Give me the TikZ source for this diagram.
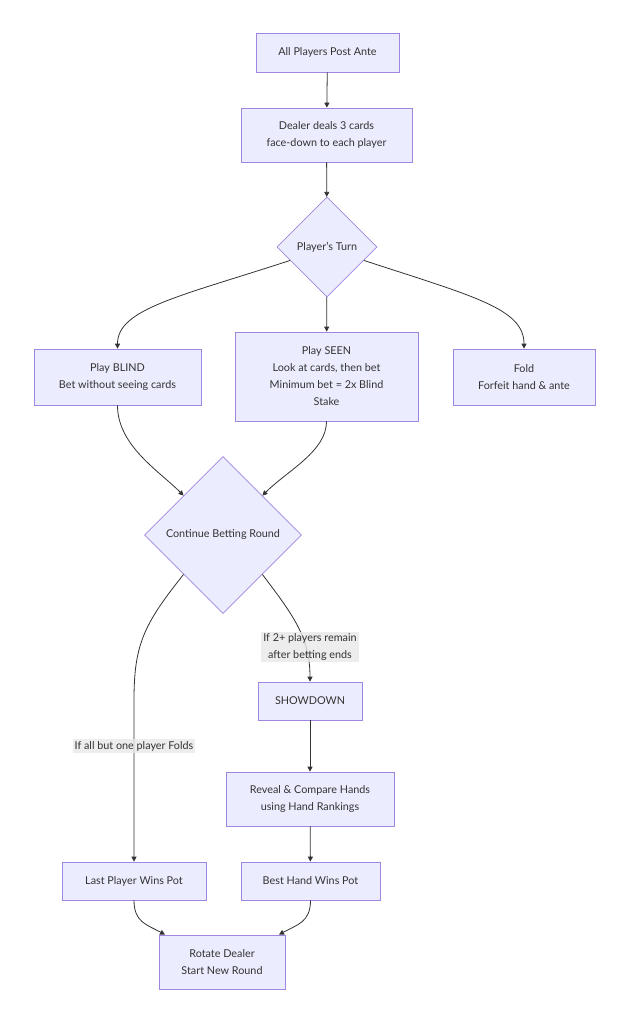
\documentclass[tikz,border=0pt]{standalone}
\usepackage{fontspec}
\setmainfont{Lato}
\usetikzlibrary{arrows.meta,positioning,calc,shapes.geometric}
\definecolor{mmfill}{HTML}{ECECFF}
\definecolor{mmline}{HTML}{9F86E0}
\definecolor{mmtext}{HTML}{333333}
\definecolor{mmlabel}{HTML}{E8E8E8}

\begin{document}
\begin{tikzpicture}[
      x=1pt, y=-1pt,
      box/.style={draw=mmline, fill=mmfill, line width=0.7pt, align=center,
                  inner sep=0pt, text=mmtext,
                  font=\fontsize{10.8}{17}\selectfont},
      choice/.style={box, diamond, aspect=1},
      lbl/.style={fill=mmlabel, fill opacity=0.8, text opacity=1,
                  align=center, inner sep=2pt, text=mmtext,
                  font=\fontsize{10.8}{17}\selectfont},
      arr/.style={-{Triangle[length=5pt,width=5pt]}, line width=0.8pt,
                  draw=mmtext},
    ]
    \useasboundingbox (0,0) rectangle (629,1024);

    % Deal
    \node[box, minimum width=143pt, minimum height=39pt] (ante) at (327.5,52.5)
      {All Players Post Ante};
    \node[box, minimum width=171pt, minimum height=54pt] (deal) at (326.5,135)
      {Dealer deals 3 cards\\face-down to each player};
    \node[choice, minimum width=100pt, minimum height=100pt] (turn) at (327,247)
      {Player's Turn};

    % Choices
    \node[box, minimum width=167pt, minimum height=56pt] (blind) at (117.5,377)
      {Play BLIND\\Bet without seeing cards};
    \node[box, minimum width=183pt, minimum height=89pt] (seen) at (326.5,376.5)
      {Play SEEN\\Look at cards, then bet\\Minimum bet = 2x Blind\\Stake};
    \node[box, minimum width=142pt, minimum height=56pt] (fold) at (524,377)
      {Fold\\Forfeit hand \& ante};

    % Betting + outcomes
    \node[choice, minimum width=157pt, minimum height=157pt] (cont) at (223,535)
      {Continue Betting Round};
    \node[box, minimum width=104pt, minimum height=38pt] (show) at (310,701)
      {SHOWDOWN};
    \node[box, minimum width=168pt, minimum height=54pt] (reveal) at (310,799)
      {Reveal \& Compare Hands\\using Hand Rankings};
    \node[box, minimum width=144pt, minimum height=38pt] (last) at (134,881)
      {Last Player Wins Pot};
    \node[box, minimum width=139pt, minimum height=38pt] (best) at (310.5,881)
      {Best Hand Wins Pot};
    \node[box, minimum width=126pt, minimum height=54pt] (rot) at (222,962)
      {Rotate Dealer\\Start New Round};
    \coordinate (lbend) at (134,700);

    % Arrows
    \draw[arr] (ante) -- (deal);
    \draw[arr] (deal) -- (turn);
    \draw[arr] (turn.200) .. controls +(-110,36) and +(0,-40) .. (blind.north);
    \draw[arr] (turn) -- (seen);
    \draw[arr] (turn.340) .. controls +(110,36) and +(0,-40) .. (fold.north);
    \draw[arr] (blind.south) .. controls +(0,40) and +(-25,-25) .. (cont.north west);
    \draw[arr] (seen.south) .. controls +(0,30) and +(25,-25) .. (cont.north east);
    \draw[arr] (cont.south west) .. controls +(-40,50) and +(0,-55) .. (lbend)
      -- (last.north);
    \draw[arr] (cont.south east) .. controls +(30,40) and +(0,-45) .. (show.north);
    \draw[arr] (show) -- (reveal);
    \draw[arr] (reveal) -- (best);
    \draw[arr] (last.south) .. controls +(0,22) and +(-18,-10)
      .. ($(rot.north west)!0.05!(rot.north east)$);
    \draw[arr] (best.south) .. controls +(0,22) and +(18,-10)
      .. ($(rot.north east)!0.05!(rot.north west)$);

    % Labels
    \node[lbl] (lblshow) at (310,647) {If 2+ players remain\\after betting ends};
    \node[lbl] (lblfold) at (134,746) {If all but one player Folds};
  \end{tikzpicture}
\end{document}
